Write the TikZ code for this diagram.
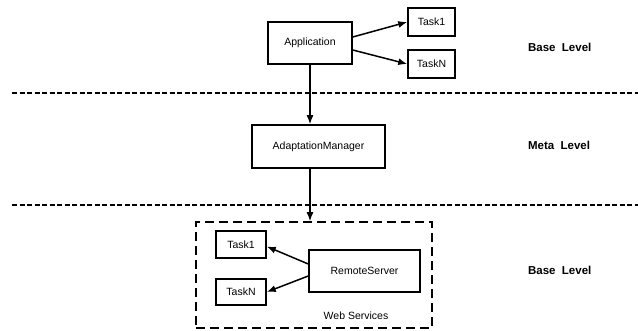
\documentclass[tikz,border=0pt]{standalone}
\usepackage{fontspec}
\setmainfont{Liberation Sans}
\usetikzlibrary{arrows,arrows.meta,positioning}

\begin{document}
\begin{tikzpicture}[x=1pt,y=-1pt,line width=1.5pt,>={Latex[length=9pt,width=7pt]},
        box/.style = {draw, rectangle, inner sep=0pt, font=\fontsize{10.5}{12}\selectfont},
        level/.style = {anchor=west, font=\fontsize{11.5}{13}\selectfont\bfseries},
        sep/.style = {dash pattern=on 5pt off 2.5pt}]
        \useasboundingbox (0,0) rectangle (638,331);

        \node[box, minimum width=84pt, minimum height=42pt] (app) at (310,43) {Application};
        \node[box, minimum width=47pt, minimum height=28pt] (t1) at (431.5,22) {Task1};
        \node[box, minimum width=47pt, minimum height=28pt] (tn) at (431.5,64) {TaskN};

        \node[box, minimum width=133pt, minimum height=43pt] (am) at (318.5,146.5) {AdaptationManager};

        \node[draw, dash pattern=on 9pt off 5pt, minimum width=236pt, minimum height=106pt, inner sep=0pt] (ws) at (314,275) {};
        \node[box, minimum width=50pt, minimum height=27pt] (t1b) at (241,244.5) {Task1};
        \node[box, minimum width=50pt, minimum height=26pt] (tnb) at (241,292) {TaskN};
        \node[box, minimum width=111pt, minimum height=42pt] (rs) at (364.5,271) {RemoteServer};
        \node[font=\fontsize{10.5}{12}\selectfont] (wsl) at (356,316) {Web Services};

        \node[level] (l1) at (524,47) {Base\ \ Level};
        \node[level] (l2) at (524,145) {Meta\ \ Level};
        \node[level] (l3) at (524,270) {Base\ \ Level};

        \draw[sep] (12,93) -- (638,93);
        \draw[sep] (12,205) -- (638,205);

        \draw[->] ([yshift=6pt]app.east) -- (t1.west);
        \draw[->] ([yshift=-7pt]app.east) -- (tn.west);
        \draw[->] (app.south) -- (app.south |- am.north);
        \draw[->] (am.south -| app.south) -- (ws.north -| app.south);
        \draw[->] ([yshift=7pt]rs.west) -- ([yshift=-2pt]t1b.east);
        \draw[->] ([yshift=-5pt]rs.west) -- (tnb.east);
\end{tikzpicture}
\end{document}
